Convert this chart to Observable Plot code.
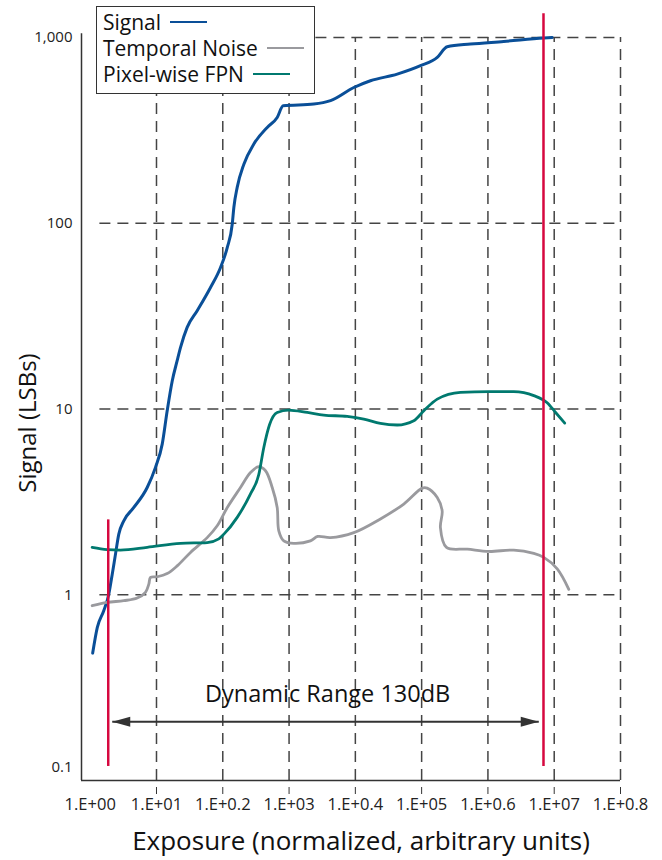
<!DOCTYPE html>
<html>
<head>
<meta charset="utf-8">
<script src="https://cdn.jsdelivr.net/npm/d3@7"></script>
<script src="https://cdn.jsdelivr.net/npm/@observablehq/plot@0.6"></script>
<style>
  body { margin: 0; background: #fff; font-family: "Open Sans", sans-serif; }
  #wrap { position: relative; width: 662px; height: 860px; }
  #legend { position: absolute; left: 96px; top: 6px; width: 217px; height: 86px;
            border: 1.5px solid #333; background: #fff; }
  .row { position: absolute; left: 6px; height: 26px; line-height: 26px; font-size: 21px;
         color: #111; display: flex; align-items: center; white-space: nowrap; }
  .sw { display: inline-block; width: 37px; height: 2px; margin-left: 9px; }
</style>
</head>
<body>
<div id="wrap"></div>
<script>
// ---- data ----
const seriesNames = ["Signal", "Temporal Noise", "Pixel-wise FPN"];
const seriesColors = ["#0a4f98", "#9a9a9e", "#00796f"];
const seriesCurves = ["monotone-x", "catmull-rom", "monotone-x"];

const signalExposure = [1.09,1.28,1.6,1.91,2.15,2.41,2.7,3.21,4.55,7.24,9.66,12.2,14.5,17.3,20.5,23,29,41.1,65.3,92.5,117,139,147,165,208,294,468,662,815,2360,4220,9480,16900,42800,96100,172000,243000,546000,1730000,6960000,9310000];
const signalValue = [0.485,0.667,0.82,1.01,1.29,1.66,2.12,2.5,2.95,3.78,4.85,6.47,9.79,14.2,18.2,21.4,27.5,33.8,45.1,57.8,74.1,99.1,122,156,208,267,328,371,429,438,457,538,585,635,705,781,892,922,952,993,1000];

const noiseExposure = [1.07,1.8,3.21,5.12,6.82,7.66,8.13,10.3,14.5,20.5,32.6,58.2,82.4,117,185,262,349,441,557,662,700,833,1180,2100,2710,4220,9480,23900,53800,102000,121000,172000,204000,192000,237000,487000,1030000,2450000,4920000,6960000,11100000,16600000];
const noiseValue = [0.873,0.909,0.929,0.96,1.03,1.14,1.24,1.25,1.3,1.43,1.69,2.03,2.35,2.95,3.78,4.55,4.89,4.65,3.78,2.95,2.21,1.95,1.89,1.95,2.06,2.03,2.16,2.56,3.08,3.75,3.75,3.34,2.83,2.3,1.8,1.76,1.71,1.74,1.67,1.59,1.38,1.07];

const fpnExposure = [1.07,1.8,2.86,7.24,23,58.2,87.1,104,165,262,349,416,507,662,980,1880,3340,7530,13400,23900,42800,76200,108000,172000,385000,1030000,2450000,4920000,7830000,10500000,14400000];
const fpnValue = [1.8,1.75,1.74,1.8,1.89,1.91,2.0,2.12,2.61,3.49,4.43,6.21,8.23,9.58,9.87,9.58,9.27,9.12,8.83,8.36,8.2,8.65,9.79,11.3,12.3,12.4,12.4,11.8,10.8,9.58,8.4];

const xTickValues = [1,1e1,1e2,1e3,1e4,1e5,1e6,1e7,1e8];
const xTickLabels = ["1.E+00","1.E+01","1.E+0.2","1.E+03","1.E+0.4","1.E+05","1.E+0.6","1.E+07","1.E+0.8"];
const yTickValues = [0.1,1,10,100,1000];
const yTickLabels = ["0.1","1","10","100","1,000"];

const xTitle = "Exposure (normalized, arbitrary units)";
const yTitle = "Signal (LSBs)";

// dynamic range annotation
const limitExposure = [1.87, 6.89e6];
const limitTop = [2.53, 1343];
const limitBottom = 0.119;
const arrowStart = 2.15, arrowEnd = 5.85e6, arrowLevel = 0.207;
const rangeLabel = "Dynamic Range 130dB";
const rangeLabelX = 3820, rangeLabelY = 0.29;

// ---- build ----
const xMin = 0.739, xMax = 1e8, yMin = 0.1, yMax = 1000, axisTop = 1047, gridStart = 1.4;
const toRows = (xs, ys) => xs.map((x, i) => ({x, y: ys[i]}));
const series = [toRows(signalExposure, signalValue), toRows(noiseExposure, noiseValue), toRows(fpnExposure, fpnValue)];
const xLabel = new Map(xTickValues.map((v, i) => [v, xTickLabels[i]]));
const yLabel = new Map(yTickValues.map((v, i) => [v, yTickLabels[i]]));

const headRight = {draw(c) { c.moveTo(0,0); c.lineTo(-18,-5); c.lineTo(-18,5); c.closePath(); }};
const headLeft = {draw(c) { c.moveTo(0,0); c.lineTo(18,-5); c.lineTo(18,5); c.closePath(); }};

const grid = {stroke: "#444", strokeWidth: 1.5, strokeDasharray: "11,7"};

const chart = Plot.plot({
  width: 662, height: 860,
  marginLeft: 81, marginRight: 42, marginTop: 37, marginBottom: 80,
  x: {type: "log", domain: [xMin, xMax]},
  y: {type: "log", domain: [yMin, yMax]},
  style: {fontFamily: '"Open Sans", sans-serif', color: "#222", background: "transparent", overflow: "visible"},
  marks: [
    Plot.ruleY(yTickValues.slice(1), {x1: gridStart, x2: xMax, ...grid}),
    Plot.ruleX(xTickValues.slice(1), {y1: yMin, y2: yMax, ...grid}),
    Plot.ruleX([xMin], {y1: yMin, y2: axisTop, stroke: "#333", strokeWidth: 1.5}),
    Plot.ruleY([yMin], {x1: xMin, x2: xMax, stroke: "#333", strokeWidth: 1.5}),
    Plot.axisX(xTickValues.slice(1), {tickSize: 14, strokeDasharray: "0,7,7", tickFormat: () => "", label: null, stroke: "#333"}),
    Plot.axisX(xTickValues, {tickSize: 0, tickPadding: 18, tickFormat: d => xLabel.get(d), fontSize: 16.5, label: null}),
    Plot.axisY(yTickValues.slice(1), {tickSize: 0, tickPadding: 9, tickFormat: d => yLabel.get(d), fontSize: 15, label: null}),
    Plot.axisY(yTickValues.slice(0, 1), {tickSize: 0, tickPadding: 9, tickFormat: d => yLabel.get(d), fontSize: 15, label: null, dy: -13}),
    Plot.text([xTitle], {frameAnchor: "bottom", textAnchor: "middle", lineAnchor: "middle", dy: 61, dx: 10, fontSize: 26, fill: "#111"}),
    Plot.text([yTitle], {frameAnchor: "left", textAnchor: "middle", lineAnchor: "middle", rotate: -90, dx: -53, dy: 14, fontSize: 24, fill: "#111"}),
    ...series.map((rows, i) => Plot.line(rows, {x: "x", y: "y", stroke: seriesColors[i], strokeWidth: i === 0 ? 3 : 2.8, curve: seriesCurves[i]})),
    Plot.ruleX(limitExposure, {y1: limitTop, y2: limitBottom, stroke: "#d6083f", strokeWidth: 2.5}),
    Plot.link([0], {x1: arrowStart, x2: arrowEnd, y1: arrowLevel, y2: arrowLevel, stroke: "#333", strokeWidth: 2}),
    Plot.dot([0], {x: arrowEnd, y: arrowLevel, symbol: headRight, fill: "#333", stroke: "none"}),
    Plot.dot([0], {x: arrowStart, y: arrowLevel, symbol: headLeft, fill: "#333", stroke: "none"}),
    Plot.text([rangeLabel], {x: rangeLabelX, y: rangeLabelY, fontSize: 23.5, fill: "#111"})
  ]
});
const wrap = document.getElementById("wrap");
wrap.appendChild(chart);

const legend = document.createElement("div");
legend.id = "legend";
const rowCenters = [14.5, 40.5, 67];
seriesNames.forEach((name, i) => {
  const row = document.createElement("div");
  row.className = "row";
  row.style.top = (rowCenters[i] - 13) + "px";
  const t = document.createElement("span");
  t.textContent = name;
  const s = document.createElement("span");
  s.className = "sw";
  s.style.background = seriesColors[i];
  row.appendChild(t); row.appendChild(s);
  legend.appendChild(row);
});
wrap.appendChild(legend);
</script>
</body>
</html>
